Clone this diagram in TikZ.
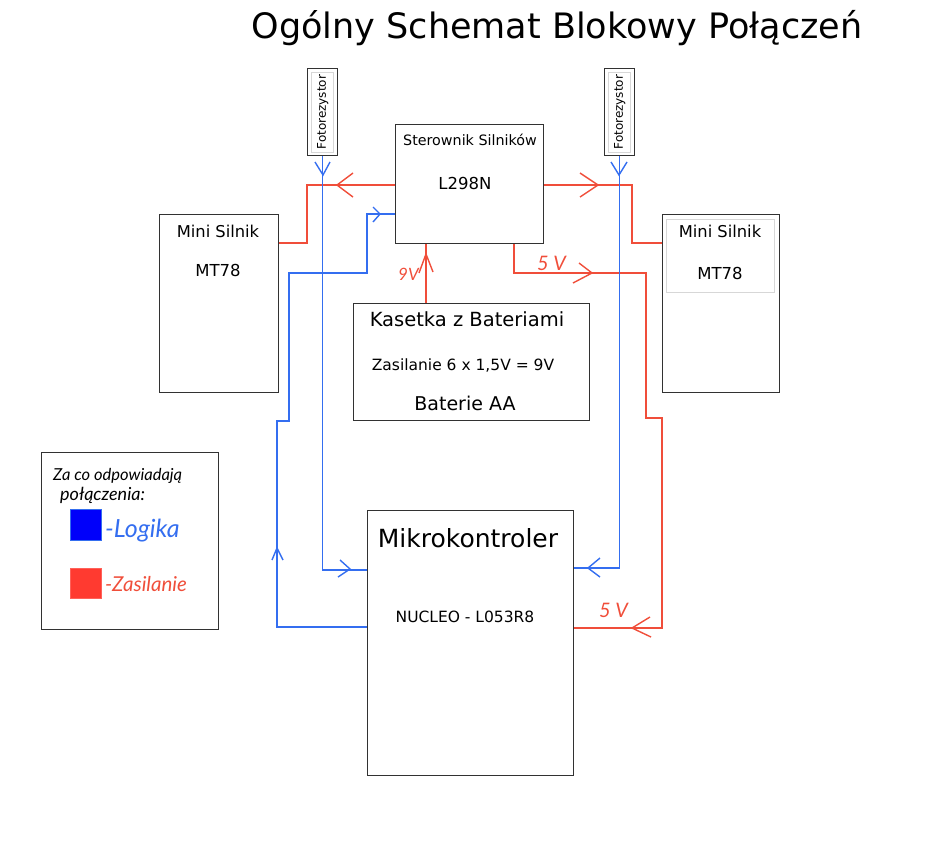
\documentclass[tikz,border=0pt]{standalone}
\usepackage{fontspec}
\setmainfont{DejaVu Sans}
\newfontfamily\handfont{Lato Italic}
\usetikzlibrary{calc}
\definecolor{wred}{RGB}{240,78,58}
\definecolor{wblue}{RGB}{52,110,240}
\definecolor{boxgray}{RGB}{50,50,50}
\definecolor{innergray}{RGB}{215,215,215}
\definecolor{sqblue}{RGB}{0,0,250}
\definecolor{sqred}{RGB}{255,58,48}
\begin{document}
\begin{tikzpicture}[x=1pt,y=-1pt,
  box/.style={draw=boxgray, line width=1.4pt, fill=white, inner sep=0pt, anchor=north west},
  innerbox/.style={draw=innergray, line width=1pt, inner sep=0pt, anchor=north west},
  pw/.style={wred, line width=1.4pt},
  lg/.style={wblue, line width=1.4pt},
  lbl/.style={inner sep=0pt, anchor=base},
  fs/.style={font=\fontsize{#1}{#1}\selectfont},
  hand/.style={inner sep=0pt, anchor=base west, font=\handfont\fontsize{#1}{#1}\selectfont}
]
\useasboundingbox (0,0) rectangle (942,852);

% title
\node[lbl, fs=35] (title) at (557,38) {Ogólny Schemat Blokowy Połączeń};

% photoresistors
\node[box, minimum width=30pt, minimum height=87pt] (fotL) at (307,68) {};
\node[innerbox, minimum width=22pt, minimum height=80pt] (fotLi) at (311,72) {};
\node[inner sep=0pt, rotate=90, fs=12] (fotLt) at (fotL.center) {Fotorezystor};
\node[box, minimum width=30pt, minimum height=87pt] (fotR) at (604,68) {};
\node[innerbox, minimum width=22pt, minimum height=80pt] (fotRi) at (608,72) {};
\node[inner sep=0pt, rotate=90, fs=12] (fotRt) at (fotR.center) {Fotorezystor};

% motor driver
\node[box, minimum width=148pt, minimum height=119pt] (drv) at (395,124) {};
\node[lbl, fs=14.3] (drvt) at (470,145) {Sterownik Silników};
\node[lbl, fs=16.5] (drvm) at (465,189) {L298N};

% motors
\node[box, minimum width=119pt, minimum height=178pt] (motL) at (159,214) {};
\node[lbl, fs=16.3] (motLt) at (218,237) {Mini Silnik};
\node[lbl, fs=16.5] (motLm) at (218,276) {MT78};
\node[box, minimum width=117pt, minimum height=178pt] (motR) at (662,214) {};
\node[innerbox, minimum width=108pt, minimum height=73pt] (motRi) at (666,219) {};
\node[lbl, fs=16.3] (motRt) at (720,237) {Mini Silnik};
\node[lbl, fs=16.5] (motRm) at (720,279) {MT78};

% battery
\node[box, minimum width=236pt, minimum height=117pt] (bat) at (353,303) {};
\node[lbl, fs=19.5] (batt) at (467,326) {Kasetka z Bateriami};
\node[lbl, fs=15.5] (batv) at (463,370) {Zasilanie 6 x 1,5V = 9V};
\node[lbl, fs=19] (bata) at (465,410) {Baterie AA};

% microcontroller
\node[box, minimum width=206pt, minimum height=265pt] (mcu) at (367,510) {};
\node[lbl, fs=25] (mcut) at (468,547) {Mikrokontroler};
\node[lbl, fs=15.5] (mcum) at (465,622) {NUCLEO - L053R8};

% legend
\node[box, minimum width=177pt, minimum height=177pt] (leg) at (41,452) {};
\node[hand=16.5] (legt1) at (53,480) {Za co odpowiadają};
\node[hand=18] (legt2) at (60,500) {połączenia:};
\node[draw=wblue, fill=sqblue, line width=0.8pt, minimum width=31pt, minimum height=31pt, inner sep=0pt, anchor=north west] (sqb) at (70,509) {};
\node[draw=sqred!80!white, fill=sqred, line width=0.8pt, minimum width=31pt, minimum height=30pt, inner sep=0pt, anchor=north west] (sqr) at (70,568) {};
\node[hand=25, text=wblue] (legb) at (105,537) {-Logika};
\node[hand=20.5, text=wred] (legr) at (105,591) {-Zasilanie};

% handwritten voltage labels
\node[hand=17, text=wred] (l9v) at (398,280) {9V};
\node[hand=20, text=wred] (l5va) at (537,270) {5 V};
\node[hand=20, text=wred] (l5vb) at (599,617) {5 V};

% coordinates for connectors
\coordinate (rL) at (307,185);
\coordinate (rLd) at (307,243);
\coordinate (rR) at (632,185);
\coordinate (rRd) at (632,243);
\coordinate (v9) at (426,0);
\coordinate (v5a) at (514,243);
\coordinate (v5b) at (514,273);
\coordinate (v5c) at (646,273);
\coordinate (v5d) at (646,418);
\coordinate (v5e) at (662,418);
\coordinate (v5f) at (662,628);
\coordinate (bL) at (323,570);
\coordinate (bR) at (620,568);
\coordinate (c1) at (277,627);
\coordinate (c2) at (277,421);
\coordinate (c3) at (289,421);
\coordinate (c4) at (289,273);
\coordinate (c5) at (367,273);
\coordinate (c6) at (367,214);

% red power connectors
\draw[pw] (drv.west |- rL) -- (rL) -- (rLd) -- (motL.east |- rLd);
\draw[pw] (353,173) -- (337,185) -- (353,197);
\draw[pw] (drv.east |- rR) -- (rR) -- (rRd) -- (motR.west |- rRd);
\draw[pw] (580,173) -- (598,185) -- (580,197);
\draw[pw] (bat.north -| v9) -- (drv.south -| v9);
\draw[pw] (419,273) -- (426,254) -- (433,272);
\draw[pw] (drv.south -| v5a) -- (v5b) -- (v5c) -- (v5d) -- (v5e) -- (v5f) -- (mcu.east |- v5f);
\draw[pw] (579,263) -- (592,273) -- (573,283);
\draw[pw] (650,617) -- (632,628) -- (651,637);

% blue logic connectors
\draw[lg] (fotL.south) -- (fotL.south |- bL) -- (mcu.west |- bL);
\draw[lg] (315,162) -- (323,175) -- (330,162);
\draw[lg] (340,560) -- (350,569) -- (338,577);
\draw[lg] (fotR.south) -- (fotR.south |- bR) -- (mcu.east |- bR);
\draw[lg] (611,162) -- (619,175) -- (627,162);
\draw[lg] (600,558) -- (588,568) -- (600,577);
\draw[lg] (mcu.west |- c1) -- (c1) -- (c2) -- (c3) -- (c4) -- (c5) -- (c6) -- (drv.west |- c6);
\draw[lg] (272,560) -- (277,548) -- (283,560);
\draw[lg] (373,207) -- (380,214) -- (373,222);
\end{tikzpicture}
\end{document}
